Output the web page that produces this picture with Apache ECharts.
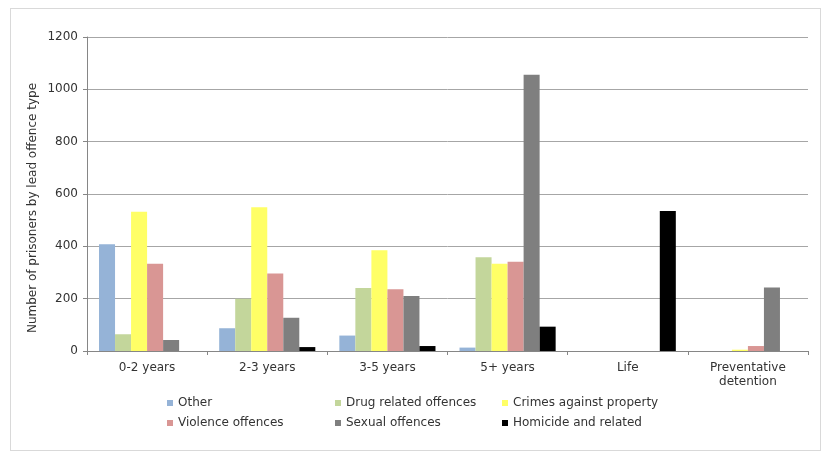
<!DOCTYPE html>
<html>
<head>
<meta charset="utf-8">
<script src="https://cdn.jsdelivr.net/npm/echarts@6/dist/echarts.min.js"></script>
<style>
html,body{margin:0;padding:0;background:#fff;}
#frame{position:absolute;left:10px;top:8px;width:811px;height:443px;border:1px solid #d9d9d9;box-sizing:border-box;}
#chart{position:absolute;left:0;top:0;width:832px;height:468px;}
</style>
</head>
<body>
<div id="frame"></div>
<div id="chart"></div>
<script>
const categories = ['0-2 years', '2-3 years', '3-5 years', '5+ years', 'Life', 'Preventative\ndetention'];
const seriesNames = ['Other', 'Drug related offences', 'Crimes against property', 'Violence offences', 'Sexual offences', 'Homicide and related'];
const other     = [408,  87,  59,   13,   0,   0];
const drug      = [ 64, 200, 241,  358,   0,   0];
const property  = [532, 549, 385,  333,   0,   5];
const violence  = [333, 296, 236,  341,   0,  19];
const sexual    = [ 42, 127, 210, 1056,   0, 243];
const homicide  = [  0,  15,  19,   93, 535,   0];
const yTicks = [0, 200, 400, 600, 800, 1000, 1200];
const colors = ['#95b3d7', '#c3d69b', '#ffff66', '#d99694', '#7f7f7f', '#000000'];
const yTitle = 'Number of prisoners by lead offence type';

const values = [other, drug, property, violence, sexual, homicide];
const font = 'DejaVu Sans';
const chart = echarts.init(document.getElementById('chart'), null, {renderer: 'canvas'});

function legendBlock(names, left) {
  return {
    orient: 'vertical', left: left, top: 397,
    itemWidth: 6, itemHeight: 6, itemGap: 8, padding: 0,
    icon: 'rect',
    data: names,
    textStyle: {fontFamily: font, fontSize: 12, color: '#333'}
  };
}

chart.setOption({
  animation: false,
  color: colors,
  textStyle: {fontFamily: font},
  grid: {left: 87, right: 24, top: 37, bottom: 117, containLabel: false},
  legend: [
    legendBlock([seriesNames[0], seriesNames[3]], 167),
    legendBlock([seriesNames[1], seriesNames[4]], 335),
    legendBlock([seriesNames[2], seriesNames[5]], 502)
  ],
  xAxis: {
    type: 'category', data: categories, boundaryGap: true,
    axisLine: {lineStyle: {color: '#868686'}},
    axisTick: {show: true, length: 4, lineStyle: {color: '#868686'}},
    axisLabel: {fontFamily: font, fontSize: 12, color: '#333', margin: 10, lineHeight: 14, interval: 0}
  },
  yAxis: {
    type: 'value', min: yTicks[0], max: yTicks[yTicks.length - 1], interval: 200,
    axisLine: {show: true, lineStyle: {color: '#868686'}},
    axisTick: {show: true, length: 4, lineStyle: {color: '#868686'}},
    axisLabel: {fontFamily: font, fontSize: 12, color: '#333', margin: 9, formatter: v => String(v)},
    splitLine: {lineStyle: {color: '#a6a6a6', width: 1}}
  },
  graphic: [{
    type: 'text', x: 33, y: 208, rotation: Math.PI / 2,
    style: {text: yTitle, fontFamily: font, fontSize: 12, fill: '#333', align: 'center', verticalAlign: 'middle'}
  }],
  series: seriesNames.map((n, i) => ({
    name: n, type: 'bar', data: values[i],
    barGap: '0%', barCategoryGap: '20%',
    itemStyle: {color: colors[i]}
  }))
});
</script>
</body>
</html>
